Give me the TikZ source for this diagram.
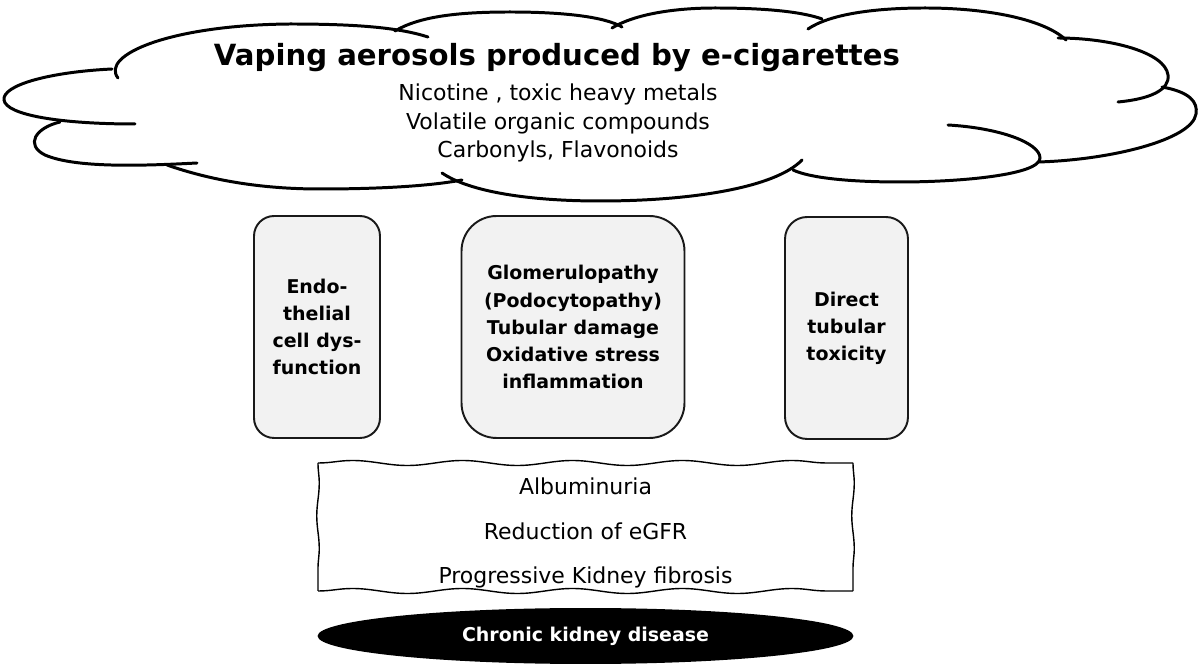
\documentclass[tikz,border=0pt]{standalone}
\usepackage{fontspec}
\setmainfont{DejaVu Sans}
\usetikzlibrary{shapes.geometric,decorations.pathmorphing}
\begin{document}
\begin{tikzpicture}[x=0.02cm,y=-0.02cm,
  cloudline/.style={line width=1.7pt,line cap=round},
  causebox/.style={draw=black!90,line width=1.1pt,fill=black!5,minimum height=4.44cm,
    align=center,font=\bfseries\fontsize{10.8pt}{15.4pt}\selectfont,inner sep=0pt},
  titletext/.style={anchor=base,font=\bfseries\fontsize{16.6pt}{19pt}\selectfont,inner sep=0pt},
  subtext/.style={anchor=base,font=\fontsize{12.5pt}{14pt}\selectfont,inner sep=0pt},
  effecttext/.style={align=center,font=\fontsize{12.5pt}{25.2pt}\selectfont,inner sep=0pt},
  wavyedge/.style={line width=0.8pt,decorate,decoration={snake,segment length=2.2cm,amplitude=0.05cm}},
  wavyside/.style={line width=0.8pt,decorate,decoration={snake,segment length=1.3cm,amplitude=0.025cm}},
  outcome/.style={ellipse,fill=black,minimum width=10.72cm,minimum height=1.12cm,inner sep=0pt,
    text=white,font=\bfseries\fontsize{10.8pt}{13pt}\selectfont}
]
\useasboundingbox (0,0) rectangle (1200,671);

% cloud outline
\draw[cloudline] (118,78) .. controls (100,55) and (170,25) .. (290,24) .. controls (360,24) and (400,28) .. (428,37);
\draw[cloudline] (395,31) .. controls (420,16) and (460,12) .. (510,12) .. controls (565,12) and (605,17) .. (622,27);
\draw[cloudline] (612,28) .. controls (635,14) and (675,8) .. (715,8) .. controls (760,8) and (800,11) .. (822,19);
\draw[cloudline] (808,29) .. controls (830,14) and (875,8) .. (925,8) .. controls (990,8) and (1045,20) .. (1066,40);
\draw[cloudline] (1058,38) .. controls (1110,38) and (1165,52) .. (1168,75) .. controls (1170,90) and (1150,99) .. (1118,102);
\draw[cloudline] (1162,87) .. controls (1190,92) and (1198,102) .. (1196,114) .. controls (1192,140) and (1110,160) .. (1038,162);
\draw[cloudline] (948,125) .. controls (1000,128) and (1040,143) .. (1040,158) .. controls (1040,175) and (960,182) .. (900,182) .. controls (850,182) and (810,178) .. (793,170);
\draw[cloudline] (442,173) .. controls (470,192) and (530,201) .. (600,201) .. controls (690,201) and (775,188) .. (802,160);
\draw[cloudline] (167,165) .. controls (210,180) and (260,189) .. (320,189) .. controls (380,189) and (430,186) .. (462,180);
\draw[cloudline] (60,122) .. controls (35,128) and (25,145) .. (45,155) .. controls (75,168) and (140,166) .. (197,163);
\draw[cloudline] (112,69) .. controls (50,72) and (2,85) .. (4,100) .. controls (6,115) and (60,124) .. (135,124);

% cloud text
\node[titletext] (title) at (557,66) {Vaping aerosols produced by e-cigarettes};
\node[subtext] (sub1) at (558,101) {Nicotine , toxic heavy metals};
\node[subtext] (sub2) at (558,129.5) {Volatile organic compounds};
\node[subtext] (sub3) at (558,158) {Carbonyls, Flavonoids};

% mechanism boxes
\node[causebox,minimum width=2.52cm,rounded corners=0.4cm] (endo) at (317,327)
  {Endo-\\thelial\\cell dys-\\function};
\node[causebox,minimum width=4.46cm,rounded corners=0.7cm] (glom) at (573,327)
  {Glomerulopathy\\(Podocytopathy)\\Tubular damage\\Oxidative stress\\inflammation};
\node[causebox,minimum width=2.46cm,rounded corners=0.44cm] (direct) at (846.5,328)
  {Direct\\tubular\\toxicity};

% effects box
\coordinate (fxnw) at (318,463);
\coordinate (fxne) at (853,463);
\coordinate (fxsw) at (318,591);
\coordinate (fxse) at (853,591);
\node[effecttext] (effects) at (585.5,533)
  {Albuminuria\\Reduction of eGFR\\Progressive Kidney fibrosis};
\draw[wavyedge] (fxnw) -- (fxne);
\draw[wavyedge] (fxsw) -- (fxse);
\draw[wavyside] (fxnw) -- (fxsw);
\draw[wavyside] (fxne) -- (fxse);

% outcome
\node[outcome] (ckd) at (585.5,636) {Chronic kidney disease};
\end{tikzpicture}
\end{document}
